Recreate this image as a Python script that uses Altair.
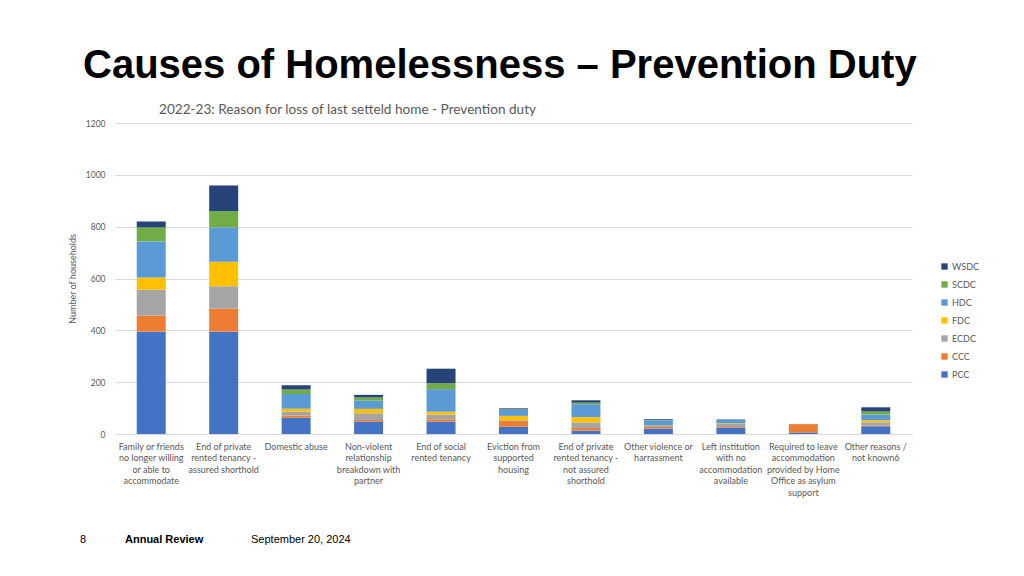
import altair as alt
import pandas as pd

categories = [
    "Family or friends|no longer willing|or able to|accommodate",
    "End of private|rented tenancy -|assured shorthold",
    "Domestic abuse",
    "Non-violent|relationship|breakdown with|partner",
    "End of social|rented tenancy",
    "Eviction from|supported|housing",
    "End of private|rented tenancy -|not assured|shorthold",
    "Other violence or|harrassment",
    "Left institution|with no|accommodation|available",
    "Required to leave|accommodation|provided by Home|Office as asylum|support",
    "Other reasons /|not known6",
]

PCC = [395, 395, 63, 48, 48, 28, 13, 21, 24, 6, 30]
CCC = [62, 89, 8, 6, 9, 22, 10, 6, 3, 32, 3]
ECDC = [100, 86, 15, 26, 18, 3, 22, 4, 12, 1, 12]
FDC = [47, 95, 11, 17, 11, 17, 20, 2, 2, 0, 8]
HDC = [139, 132, 57, 32, 87, 23, 50, 20, 14, 0, 22]
SCDC = [54, 63, 18, 12, 23, 2, 6, 1, 1, 0, 12]
WSDC = [23, 99, 16, 10, 56, 4, 9, 3, 1, 0, 16]

series_names = ["PCC", "CCC", "ECDC", "FDC", "HDC", "SCDC", "WSDC"]
series_values = [PCC, CCC, ECDC, FDC, HDC, SCDC, WSDC]
series_colors = ["#4472C4", "#ED7D31", "#A5A5A5", "#FFC000", "#5B9BD5", "#70AD47", "#264478"]

rows = []
for k, (name, vals) in enumerate(zip(series_names, series_values)):
    for cat, v in zip(categories, vals):
        rows.append({"cause": cat, "council": name, "households": v, "order": k})
df = pd.DataFrame(rows)

legend_domain = list(reversed(series_names))
legend_range = list(reversed(series_colors))

GRAY = "#595959"
FONT = "Lato"

bars = alt.Chart(df).mark_bar().encode(
    x=alt.X(
        "cause:N",
        sort=categories,
        scale=alt.Scale(paddingInner=0.6, paddingOuter=0.3),
        axis=alt.Axis(
            title=None,
            labelExpr="split(datum.label, '|')",
            labelAngle=0,
            labelFontSize=9,
            labelColor=GRAY,
            labelFont=FONT,
            ticks=False,
            domainColor="#d9d9d9",
            labelPadding=8,
            labelLineHeight=11.5,
            labelBaseline="top",
            labelLimit=300,
            labelOverlap=False,
        ),
    ),
    y=alt.Y(
        "households:Q",
        stack="zero",
        scale=alt.Scale(domain=[0, 1200], nice=False),
        axis=alt.Axis(
            values=[0, 200, 400, 600, 800, 1000, 1200],
            format="d",
            title="Number of households",
            titleFontSize=9,
            titleFontWeight="normal",
            titleColor=GRAY,
            titleFont=FONT,
            titlePadding=8,
            grid=True,
            gridColor="#d9d9d9",
            domain=False,
            ticks=False,
            labelPadding=10,
            labelFontSize=8.5,
            labelColor=GRAY,
            labelFont=FONT,
        ),
    ),
    color=alt.Color(
        "council:N",
        scale=alt.Scale(domain=legend_domain, range=legend_range),
        legend=alt.Legend(
            title=None,
            orient="none",
            legendX=825,
            legendY=139,
            symbolType="square",
            symbolSize=40,
            symbolStrokeWidth=0,
            labelFontSize=9,
            labelColor=GRAY,
            labelFont=FONT,
            labelOffset=3,
            rowPadding=8,
        ),
    ),
    order=alt.Order("order:Q", sort="ascending"),
)

one = alt.Data(values=[{"a": 1}])

title = alt.Chart(one).mark_text(
    align="left", baseline="alphabetic", font="Liberation Sans", fontWeight="bold",
    fontSize=40, color="#000000"
).encode(x=alt.value(-32), y=alt.value(-45), text=alt.value("Causes of Homelessness – Prevention Duty"))

subtitle = alt.Chart(one).mark_text(
    align="left", baseline="middle", font=FONT, fontSize=13.6, color=GRAY
).encode(x=alt.value(44), y=alt.value(-13),
         text=alt.value("2022-23: Reason for loss of last setteld home - Prevention duty"))

foot1 = alt.Chart(one).mark_text(
    align="left", baseline="middle", font="Liberation Sans", fontSize=11, color="#000000"
).encode(x=alt.value(-35), y=alt.value(417), text=alt.value("8"))

foot2 = alt.Chart(one).mark_text(
    align="left", baseline="middle", font="Liberation Sans", fontSize=11, fontWeight="bold", color="#000000"
).encode(x=alt.value(10), y=alt.value(417), text=alt.value("Annual Review"))

foot3 = alt.Chart(one).mark_text(
    align="left", baseline="middle", font="Liberation Sans", fontSize=11, color="#000000"
).encode(x=alt.value(136), y=alt.value(417), text=alt.value("September 20, 2024"))

chart = alt.layer(bars, title, subtitle, foot1, foot2, foot3).properties(
    width=797,
    height=311,
    autosize=alt.AutoSizeParams(type="none"),
    padding={"left": 107, "top": 115, "right": 104, "bottom": 134},
    background="white",
).configure_view(stroke=None)

chart.save("out.html", embed_options={"renderer": "svg", "actions": False})
